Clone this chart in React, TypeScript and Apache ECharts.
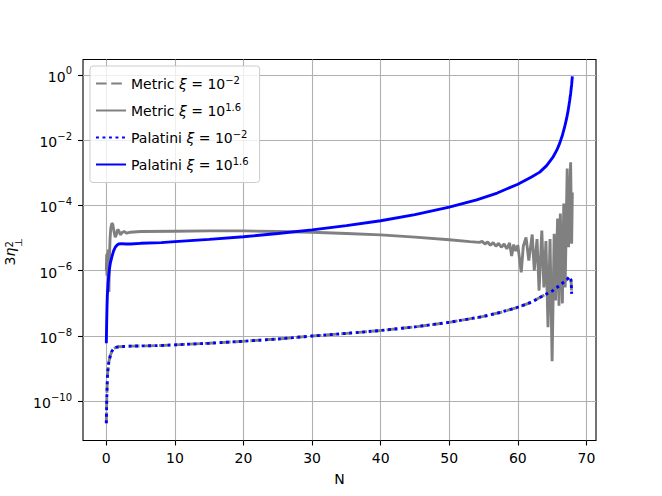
import React, { useEffect, useRef } from "react";
import * as echarts from "echarts";

const FONT = "DejaVu Sans";

// Tick positions
const xTicks = [0, 10, 20, 30, 40, 50, 60, 70];
const yTickExps = [-10, -8, -6, -4, -2, 0];

// Series names and legend labels (rich text)
const seriesNames = [
  "Metric ξ = 10^-2",
  "Metric ξ = 10^1.6",
  "Palatini ξ = 10^-2",
  "Palatini ξ = 10^1.6",
];
const legendLabels = [
  "Metric {i|ξ} = 10{s|−2}",
  "Metric {i|ξ} = 10{s|1.6}",
  "Palatini {i|ξ} = 10{s|−2}",
  "Palatini {i|ξ} = 10{s|1.6}",
];

// Data: [N, log10(3 eta_perp^2)]
const metricLow: [number, number][] = [
  [0, -10.67], [0.03, -10.3], [0.06, -9.98], [0.12, -9.5], [0.18, -9.15], [0.33, -8.84],
  [0.58, -8.6], [0.8, -8.47], [1.06, -8.39], [1.4, -8.35], [1.75, -8.33], [2.5, -8.32],
  [3.5, -8.31], [6, -8.3], [8, -8.29], [10, -8.27], [15, -8.22], [20, -8.16], [25, -8.09],
  [30, -8.0], [35, -7.92], [40, -7.83], [45, -7.72], [50, -7.58], [55, -7.4], [57.4, -7.28],
  [60.3, -7.1], [62, -6.96], [63.2, -6.82], [65.1, -6.61], [66.1, -6.45], [67.1, -6.28],
  [67.55, -6.18], [67.75, -6.28], [67.8, -6.45], [67.85, -6.71],
];

const metricHigh: [number, number][] = [
  [0, -6.0], [0.05, -5.5], [0.1, -6.15], [0.15, -5.45], [0.22, -6.05], [0.3, -5.35],
  [0.38, -6.65], [0.45, -5.6], [0.55, -5.0], [0.65, -4.7], [0.8, -4.55], [0.95, -4.58],
  [1.1, -4.78], [1.3, -4.97], [1.45, -4.9], [1.65, -4.74], [1.85, -4.78], [2.05, -4.9],
  [2.3, -4.83], [2.6, -4.8], [3.0, -4.85], [3.5, -4.82], [5, -4.8], [10, -4.79], [15, -4.78],
  [20, -4.78], [25, -4.8], [30, -4.82], [35, -4.86], [40, -4.9], [45, -4.97], [50, -5.05],
  [53, -5.11], [54.4, -5.13], [54.8, -5.1], [55.2, -5.18], [55.6, -5.12], [56.0, -5.22],
  [56.4, -5.14], [56.8, -5.25], [57.2, -5.16], [57.6, -5.28], [58.0, -5.18], [58.4, -5.33],
  [58.8, -5.15], [59.1, -5.55], [59.4, -5.2], [59.7, -5.4], [60.0, -5.22], [60.5, -6.05],
  [60.8, -5.25], [61.2, -4.98], [61.6, -5.69], [62.1, -4.89], [62.4, -6.0], [62.8, -5.03],
  [63.1, -6.61], [63.5, -4.77], [63.8, -6.51], [64.1, -5.09], [64.4, -7.73], [64.7, -5.03],
  [65.0, -8.77], [65.3, -4.87], [65.5, -6.91], [65.8, -4.4], [66.0, -7.07], [66.2, -4.25],
  [66.5, -7.0], [66.7, -3.94], [66.9, -6.51], [67.2, -2.87], [67.4, -5.28], [67.7, -2.68],
  [67.85, -5.17], [67.95, -3.6],
];

const palatiniLow: [number, number][] = [
  [0, -10.67], [0.03, -10.3], [0.06, -9.98], [0.12, -9.5], [0.18, -9.15], [0.33, -8.84],
  [0.58, -8.6], [0.8, -8.47], [1.06, -8.39], [1.4, -8.35], [1.75, -8.33], [2.5, -8.32],
  [3.5, -8.31], [6, -8.3], [8, -8.29], [10, -8.27], [15, -8.22], [20, -8.16], [25, -8.09],
  [30, -8.0], [35, -7.92], [40, -7.83], [45, -7.72], [50, -7.58], [55, -7.4], [57.4, -7.28],
  [60.3, -7.1], [62, -6.96], [63.2, -6.82], [65.1, -6.61], [66.1, -6.45], [67.1, -6.28],
  [67.55, -6.18], [67.75, -6.28], [67.8, -6.45], [67.85, -6.71],
];

const palatiniHigh: [number, number][] = [
  [0, -8.22], [0.05, -7.6], [0.1, -7.1], [0.15, -6.75], [0.25, -6.4], [0.33, -6.2],
  [0.45, -5.95], [0.6, -5.75], [0.83, -5.56], [1.05, -5.4], [1.3, -5.28], [1.55, -5.22],
  [1.8, -5.18], [2.2, -5.17], [2.8, -5.18], [3.5, -5.18], [5, -5.16], [8, -5.14],
  [10, -5.11], [15, -5.04], [20, -4.96], [25, -4.86], [30, -4.75], [35, -4.62], [40, -4.47],
  [45, -4.28], [50, -4.05], [54, -3.83], [57, -3.62], [60, -3.35], [62, -3.13], [63.2, -2.98],
  [64.2, -2.78], [65.1, -2.53], [65.7, -2.3], [66.1, -2.1], [66.5, -1.85], [66.8, -1.62],
  [67.1, -1.35], [67.35, -1.08], [67.55, -0.8], [67.7, -0.58], [67.85, -0.3], [67.95, -0.05],
];

const seriesData = [metricLow, metricHigh, palatiniLow, palatiniHigh];
const seriesColors = ["#808080", "#808080", "#0000ff", "#0000ff"];
const seriesDash: any[] = [[10.6, 4.6], "solid", [2.9, 3.6], "solid"];

const fmtExp = (v: number) => (v < 0 ? "−" + Math.abs(v) : String(v));

export default function App() {
  const ref = useRef<HTMLDivElement>(null);
  useEffect(() => {
    if (!ref.current) return;
    const chart = echarts.init(ref.current, undefined, { renderer: "svg" });
    const option: any = {
      animation: false,
      textStyle: { fontFamily: FONT },
      grid: {
        left: 83,
        top: 59.5,
        right: 66,
        bottom: 55.5,
        show: true,
        borderColor: "#000",
        borderWidth: 1.1,
        backgroundColor: "rgba(0,0,0,0)",
        containLabel: false,
        outerBoundsMode: "none",
      },
      xAxis: {
        type: "value",
        min: -3.4,
        max: 71.4,
        name: "N",
        nameLocation: "middle",
        nameGap: 31,
        nameMoveOverlap: false,
        nameTextStyle: { fontFamily: FONT, fontSize: 14, color: "#000" },
        axisLine: { show: false, onZero: false },
        axisTick: {
          show: true,
          inside: false,
          length: 5,
          lineStyle: { color: "#000", width: 1.1 },
          customValues: xTicks,
        },
        axisLabel: {
          customValues: xTicks,
          margin: 10,
          fontFamily: FONT,
          fontSize: 14,
          color: "#000",
        },
        splitLine: { show: true, lineStyle: { color: "#b0b0b0", width: 1.1 } },
      },
      yAxis: {
        type: "value",
        min: -11.2,
        max: 0.47,
        axisLine: { show: false, onZero: false },
        axisTick: {
          show: true,
          inside: false,
          length: 5,
          lineStyle: { color: "#000", width: 1.1 },
          customValues: yTickExps,
        },
        axisLabel: {
          customValues: yTickExps,
          margin: 11,
          formatter: (v: number) => `{b|10}{s|${fmtExp(v)}}`,
          rich: {
            b: { fontFamily: FONT, fontSize: 14, color: "#000", padding: [4, 0, 0, 0] },
            s: { fontFamily: FONT, fontSize: 10, color: "#000", padding: [0, 0, 8, 0] },
          },
        },
        splitLine: { show: true, lineStyle: { color: "#b0b0b0", width: 1.1 } },
      },
      legend: {
        orient: "vertical",
        left: 90,
        top: 66,
        itemWidth: 30,
        itemHeight: 14,
        itemGap: 11.5,
        itemTextGap: 12,
        padding: [9, 11, 11, 5],
        backgroundColor: "rgba(255,255,255,0.8)",
        borderColor: "#cccccc",
        borderWidth: 1,
        borderRadius: 3,
        itemStyle: { opacity: 0 },
        data: seriesNames,
        formatter: (name: string) => legendLabels[seriesNames.indexOf(name)],
        textStyle: {
          fontFamily: FONT,
          fontSize: 14,
          color: "#000",
          rich: {
            i: { fontFamily: FONT, fontSize: 14, fontStyle: "italic", color: "#000" },
            s: { fontFamily: FONT, fontSize: 10, color: "#000", padding: [0, 0, 7, 0] },
          },
        },
      },
      graphic: [
        {
          type: "group",
          x: 15,
          y: 265.5,
          rotation: Math.PI / 2,
          children: [
            {
              type: "text",
              x: 0,
              y: -4.8,
              style: { text: "3", font: `14px "${FONT}"`, fill: "#000", verticalAlign: "middle", align: "left" },
            },
            {
              type: "text",
              x: 8.9,
              y: -4.8,
              style: { text: "η", font: `italic 14px "${FONT}"`, fill: "#000", verticalAlign: "middle", align: "left" },
            },
            {
              type: "text",
              x: 18,
              y: -5.5,
              style: { text: "2", font: `10px "${FONT}"`, fill: "#000", verticalAlign: "middle", align: "left" },
            },
            {
              type: "text",
              x: 18.5,
              y: 3.5,
              style: { text: "⊥", font: `10px "${FONT}"`, fill: "#000", verticalAlign: "middle", align: "left" },
            },
          ],
        },
      ],
      series: seriesData.map((d, i) => ({
        name: seriesNames[i],
        type: "line",
        data: d,
        symbol: "none",
        showSymbol: false,
        smooth: false,
        clip: true,
        z: 2 + i,
        itemStyle: { color: seriesColors[i] },
        lineStyle: { color: seriesColors[i], width: 2.87, type: seriesDash[i] },
        emphasis: { disabled: true },
      })),
    };
    chart.setOption(option);
    return () => chart.dispose();
  }, []);
  return (
    <div
      ref={ref}
      style={{ position: "absolute", left: 0, top: 0, width: 662, height: 496 }}
    />
  );
}
